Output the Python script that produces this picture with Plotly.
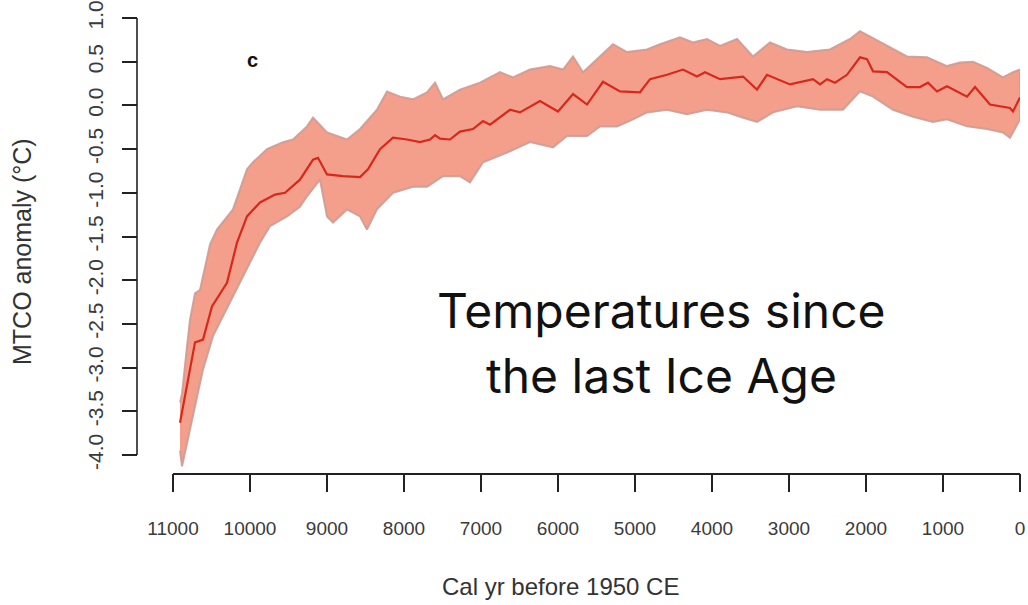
import plotly.graph_objects as go

# ---- data (years before 1950 CE, anomaly in deg C) ----
center_years = [10909, 10714, 10675, 10610, 10494, 10299, 10169, 10039, 9870, 9675,
                9545, 9351, 9182, 9117, 9000, 8792, 8571, 8468, 8312, 8143,
                7961, 7792, 7662, 7597, 7532, 7403, 7273, 7104, 6974, 6883,
                6623, 6494, 6234, 6000, 5805, 5623, 5416, 5195, 4935, 4805,
                4584, 4377, 4195, 4091, 3896, 3597, 3416, 3286, 2987, 2688,
                2597, 2506, 2403, 2247, 2078, 1987, 1909, 1727, 1468, 1299,
                1195, 1078, 948, 688, 584, 390, 130, 91, 0]
center_vals = [-3.63, -2.71, -2.70, -2.68, -2.30, -2.03, -1.57, -1.27, -1.11, -1.02,
               -1.00, -0.85, -0.62, -0.60, -0.79, -0.81, -0.82, -0.73, -0.50, -0.37,
               -0.39, -0.42, -0.39, -0.34, -0.38, -0.39, -0.30, -0.27, -0.18, -0.22,
               -0.05, -0.08, 0.05, -0.07, 0.13, 0.01, 0.27, 0.16, 0.15, 0.30,
               0.35, 0.41, 0.33, 0.38, 0.30, 0.33, 0.18, 0.35, 0.24, 0.30,
               0.24, 0.30, 0.26, 0.35, 0.55, 0.53, 0.39, 0.38, 0.21, 0.21,
               0.26, 0.16, 0.22, 0.10, 0.21, 0.01, -0.03, -0.07, 0.09]

upper_years = [10909, 10883, 10818, 10779, 10714, 10649, 10519, 10429, 10221, 10039,
               9961, 9779, 9571, 9442, 9260, 9182, 9000, 8740, 8571, 8351,
               8221, 8052, 7883, 7701, 7597, 7494, 7273, 7013, 6753, 6584,
               6364, 6104, 5935, 5805, 5675, 5494, 5286, 5104, 4844, 4675,
               4416, 4247, 4065, 3896, 3675, 3468, 3247, 3026, 2766, 2468,
               2208, 2078, 1948, 1727, 1468, 1208, 948, 779, 610, 429,
               221, 91, 0]
upper_vals = [-3.40, -3.30, -2.76, -2.45, -2.15, -2.11, -1.59, -1.42, -1.19, -0.73,
              -0.65, -0.50, -0.42, -0.39, -0.24, -0.14, -0.31, -0.39, -0.27, -0.05,
              0.16, 0.10, 0.07, 0.15, 0.26, 0.07, 0.18, 0.26, 0.38, 0.32,
              0.41, 0.45, 0.41, 0.56, 0.38, 0.53, 0.70, 0.61, 0.64, 0.70,
              0.78, 0.72, 0.76, 0.68, 0.76, 0.56, 0.72, 0.64, 0.61, 0.64,
              0.76, 0.85, 0.79, 0.68, 0.56, 0.55, 0.45, 0.49, 0.50, 0.43,
              0.32, 0.38, 0.41]

lower_years = [10909, 10883, 10753, 10610, 10481, 10299, 10130, 9870, 9740, 9519,
               9351, 9260, 9091, 9000, 8922, 8740, 8571, 8481, 8351, 8143,
               7883, 7701, 7494, 7273, 7143, 6974, 6662, 6364, 6065, 5883,
               5623, 5455, 5234, 5026, 4844, 4584, 4325, 4065, 3805, 3636,
               3416, 3208, 2896, 2597, 2299, 2078, 1909, 1649, 1390, 1130,
               948, 688, 429, 221, 130, 0]
lower_vals = [-3.95, -4.13, -3.59, -3.02, -2.64, -2.33, -2.03, -1.57, -1.38, -1.27,
              -1.16, -1.04, -0.85, -1.27, -1.34, -1.19, -1.27, -1.42, -1.19, -1.00,
              -0.93, -0.93, -0.81, -0.81, -0.88, -0.65, -0.54, -0.42, -0.48, -0.35,
              -0.35, -0.24, -0.24, -0.16, -0.08, -0.05, -0.10, -0.05, -0.08, -0.13,
              -0.19, -0.08, -0.01, -0.05, -0.05, 0.16, 0.10, -0.05, -0.13, -0.19,
              -0.16, -0.24, -0.27, -0.31, -0.37, -0.16]

x_ticks = [11000, 10000, 9000, 8000, 7000, 6000, 5000, 4000, 3000, 2000, 1000, 0]
x_ticklabels = ["11000", "10000", "9000", "8000", "7000", "6000", "5000",
                "4000", "3000", "2000", "1000", "0"]
y_ticks = [-4.0, -3.5, -3.0, -2.5, -2.0, -1.5, -1.0, -0.5, 0.0, 0.5, 1.0]
y_ticklabels = ["-4.0", "-3.5", "-3.0", "-2.5", "-2.0", "-1.5", "-1.0",
                "-0.5", "0.0", "0.5", "1.0"]

x_title = "Cal yr before 1950 CE"
y_title = "MTCO anomaly (\u00b0C)"
panel_label = "c"
overlay_line1 = "Temperatures since"
overlay_line2 = "the last Ice Age"

# ---- figure ----
W, H = 1028, 605


def fx(px):
    return px / W


def fy(py):
    return 1 - py / H


fig = go.Figure()

band_x = upper_years + lower_years[::-1]
band_y = upper_vals + lower_vals[::-1]
fig.add_trace(go.Scatter(
    x=band_x, y=band_y, mode="lines", fill="toself",
    fillcolor="rgba(240,135,110,0.80)",
    line=dict(color="rgba(205,155,148,0.9)", width=2),
    hoverinfo="skip", showlegend=False))

fig.add_trace(go.Scatter(
    x=center_years, y=center_vals, mode="lines",
    line=dict(color="#d8281c", width=2.2),
    showlegend=False))

axis_col = "#222222"
font_fam = "Liberation Sans, Arial, sans-serif"

fig.update_layout(
    width=W, height=H,
    margin=dict(l=0, r=0, t=0, b=0, pad=0, autoexpand=False),
    paper_bgcolor="white", plot_bgcolor="white",
    showlegend=False,
    xaxis=dict(
        domain=[fx(173), fx(1020)],
        range=[11000, 0],
        automargin=False,
        tickmode="array", tickvals=x_ticks, ticktext=x_ticklabels,
        ticks="outside", ticklen=18, tickwidth=1.6, tickcolor=axis_col,
        showline=True, linecolor=axis_col, linewidth=1.6,
        showgrid=False, zeroline=False,
        tickfont=dict(family=font_fam, size=19, color="#3a3a3a"),
        ticklabelstandoff=20, ticklabeloverflow="allow",
    ),
    yaxis=dict(
        domain=[fy(472.5), fy(18)],
        range=[-4.2, 1.0],
        automargin=False,
        anchor="free", position=fx(137),
        tickmode="array", tickvals=y_ticks, ticktext=y_ticklabels,
        ticks="outside", ticklen=15, tickwidth=1.6, tickcolor=axis_col,
        showline=False, showgrid=False, zeroline=False,
        tickangle=-90,
        tickfont=dict(family=font_fam, size=21, color="#3a3a3a"),
        ticklabelstandoff=11, ticklabeloverflow="allow",
    ),
    shapes=[dict(type="line", xref="paper", yref="y",
                 x0=fx(137), x1=fx(137), y0=y_ticks[0], y1=y_ticks[-1],
                 line=dict(color=axis_col, width=1.6))],
    annotations=[
        dict(text=x_title, xref="paper", yref="paper", x=fx(560), y=fy(586),
             xanchor="center", yanchor="middle", showarrow=False,
             font=dict(family=font_fam, size=24, color="#333")),
        dict(text=y_title, xref="paper", yref="paper", x=fx(22), y=fy(252),
             xanchor="center", yanchor="middle", showarrow=False, textangle=-90,
             font=dict(family=font_fam, size=25, color="#333")),
        dict(text="<b>" + panel_label + "</b>", xref="paper", yref="paper",
             x=fx(252), y=fy(60), xanchor="center", yanchor="middle", showarrow=False,
             font=dict(family=font_fam, size=20, color="#111")),
        dict(text=overlay_line1, xref="paper", yref="paper",
             x=fx(661), y=fy(310), xanchor="center", yanchor="middle", showarrow=False,
             font=dict(family="Inter, Open Sans, sans-serif", size=48, color="#111")),
        dict(text=overlay_line2, xref="paper", yref="paper",
             x=fx(661), y=fy(375), xanchor="center", yanchor="middle", showarrow=False,
             font=dict(family="Inter, Open Sans, sans-serif", size=48, color="#111")),
    ],
)

fig.write_html("out.html",
               config={"displayModeBar": False},
               post_script="document.body.style.margin='0px';"
                           "document.body.style.overflow='hidden';")
